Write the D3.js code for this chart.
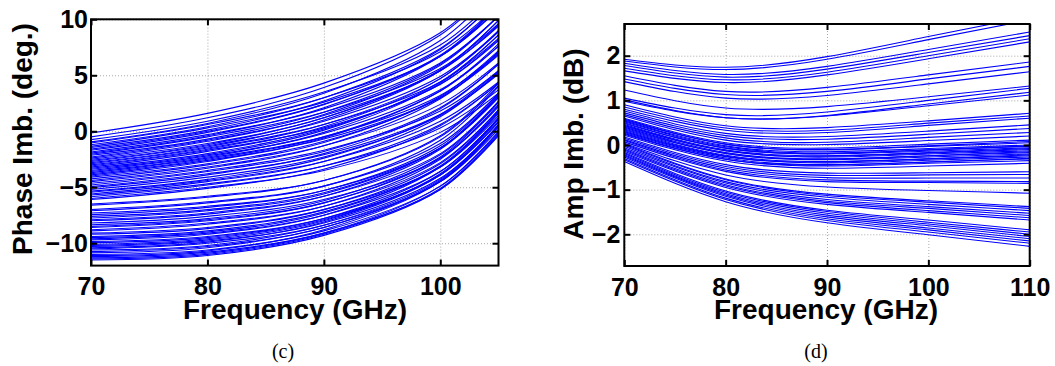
<!DOCTYPE html>
<html>
<head>
<meta charset="utf-8">
<script src="https://cdn.jsdelivr.net/npm/d3@7"></script>
<style>
  body { margin: 0; background: #fff; }
  svg { display: block; }
  .tick text { font-family: "Liberation Sans", Arial, sans-serif; font-weight: bold; font-size: 25px; fill: #000; }
  .grid line { stroke: #a8a8a8; stroke-width: 1; stroke-dasharray: 1,2; }
  .grid .domain, .ax .domain { display: none; }
  .ax line { stroke: #000; stroke-width: 2; }
  .lbl { font-family: "Liberation Sans", Arial, sans-serif; font-weight: bold; font-size: 28px; fill: #000; }
  .cap { font-family: "Liberation Serif", "Times New Roman", serif; font-size: 20px; fill: #000; }
</style>
</head>
<body>
<script>
// ---- (c) phase imbalance, one column per frequency, one entry per curve
const phaseFreq = [70, 80, 90, 100, 105];
const phase70 = [-0.15,-0.5,-0.75,-0.95,-1.05,-1.2,-1.35,-1.45,-1.6,-1.7,-1.85,-1.95,-2.05,-2.15,-2.3,-2.4,-2.5,-2.6,-2.7,-2.8,-2.9,-3.0,-3.1,-3.2,-3.3,-3.4,-3.5,-3.6,-3.7,-3.8,-3.9,-4.0,-4.1,-4.25,-4.4,-4.5,-4.65,-4.8,-4.95,-5.05,-5.2,-5.35,-5.45,-5.6,-5.7,-5.85,-6.0,-6.1,
  -6.5,-6.6,-7.0,-7.1,-7.3,-7.45,-7.6,-7.75,-7.9,-8.0,-8.2,-8.35,-8.5,-8.6,-8.8,-8.9,-9.1,-9.2,-9.4,-9.5,-9.6,-9.7,-9.85,-9.95,-10.1,-10.2,-10.3,-10.4,-10.5,-10.6,-10.75,-10.85,-11.0,-11.1,-11.2,-11.3,-11.4,-11.5];
const phase80 = [1.6,1.2,0.9,0.7,0.6,0.4,0.3,0.1,0.0,-0.1,-0.3,-0.4,-0.5,-0.7,-0.8,-0.9,-1.1,-1.2,-1.3,-1.4,-1.5,-1.6,-1.7,-1.8,-2.0,-2.1,-2.2,-2.3,-2.4,-2.5,-2.6,-2.7,-2.9,-3.0,-3.2,-3.3,-3.5,-3.6,-3.8,-3.9,-4.1,-4.3,-4.4,-4.5,-4.7,-4.8,-5.0,-5.1,
  -5.8,-5.9,-6.3,-6.4,-6.7,-6.8,-7.0,-7.1,-7.3,-7.4,-7.6,-7.8,-7.9,-8.0,-8.2,-8.3,-8.6,-8.7,-8.9,-9.0,-9.1,-9.2,-9.4,-9.5,-9.6,-9.7,-9.8,-9.9,-10.0,-10.2,-10.3,-10.4,-10.6,-10.7,-10.8,-10.9,-11.0,-11.1];
const phase90 = [4.3,3.9,3.5,3.4,3.0,3.0,2.6,2.7,2.4,2.4,2.0,2.1,1.7,1.7,1.4,1.5,1.2,1.2,0.9,1.0,0.6,0.6,0.3,0.4,0.2,0.1,-0.2,-0.1,-0.5,-0.5,-0.7,-0.6,-0.9,-1.0,-1.3,-1.3,-1.7,-1.8,-2.1,-2.0,-2.3,-2.4,-2.7,-2.7,-3.1,-3.1,-3.5,-3.4,
  -4.4,-4.4,-4.9,-4.9,-5.3,-5.3,-5.5,-5.6,-5.8,-5.8,-6.1,-6.2,-6.4,-6.4,-6.7,-6.7,-7.0,-7.0,-7.2,-7.3,-7.5,-7.5,-7.8,-7.8,-7.9,-8.0,-8.2,-8.1,-8.4,-8.4,-8.6,-8.6,-8.9,-8.8,-9.1,-9.1,-9.2,-9.3];
const phase100 = [8.8,8.6,7.7,8.1,7.1,7.4,6.7,7.3,6.7,6.8,6.1,6.7,5.6,6.0,5.4,5.9,5.4,5.5,4.9,5.4,4.4,4.7,4.2,4.7,4.2,4.4,3.7,4.3,3.2,3.6,3.0,3.6,3.0,3.1,2.4,2.9,1.8,2.1,1.5,2.0,1.4,1.5,0.9,1.3,0.3,0.6,-0.1,0.5,
  -0.5,-0.4,-1.1,-0.8,-1.5,-1.3,-1.5,-1.5,-2.0,-1.6,-2.4,-2.1,-2.4,-2.3,-2.8,-2.5,-3.2,-2.9,-3.2,-3.1,-3.6,-3.2,-3.9,-3.6,-3.9,-3.8,-4.2,-3.9,-4.5,-4.3,-4.5,-4.4,-4.9,-4.5,-5.2,-4.9,-5.1,-5.2];
const phase105 = [13.4,13.3,12.1,12.9,11.3,11.8,10.9,11.9,11.0,11.3,10.3,11.2,9.6,10.3,9.4,10.3,9.5,9.9,8.9,9.9,8.3,8.9,8.1,9.0,8.2,8.6,7.6,8.6,7.0,7.6,6.8,7.8,6.9,7.2,6.1,7.1,5.4,6.0,5.1,6.0,5.2,5.4,4.4,5.3,3.7,4.3,3.4,4.3,
  4.1,4.3,3.4,4.0,3.0,3.4,3.1,3.3,2.7,3.2,2.2,2.6,2.3,2.6,1.9,2.4,1.4,1.9,1.6,1.8,1.2,1.7,0.8,1.2,0.9,1.1,0.5,1.1,0.2,0.6,0.4,0.6,-0.1,0.5,-0.4,0.0,-0.2,-0.3];
const phaseXTicks = [70, 80, 90, 100];
const phaseYTicks = [-10, -5, 0, 5, 10];

// ---- (d) amplitude imbalance
const ampFreq = [70, 80, 90, 100, 110];
const amp70 = [1.92,1.88,1.83,1.78,1.72,1.66,1.55,1.48,1.42, 1.23,1.05,1.01,0.98, 0.90,0.85,0.80,0.76,0.72,0.68,0.65,
  0.60,0.58,0.56,0.54,0.52,0.50,0.48,0.46,0.44,0.42,0.40,0.38,0.36,0.34,0.32,0.30,0.28,0.26,0.24,0.22,
  0.18,0.15,0.12,0.10,0.07,0.04,0.02,0.00,-0.03,-0.06,-0.09,-0.11,-0.14,-0.17,-0.19,-0.22,-0.24,-0.27,-0.30,-0.33,-0.37];
const amp80 = [1.74,1.69,1.58,1.52,1.46,1.40,1.20,1.13,1.05, 0.83,0.68,0.61,0.61, 0.43,0.38,0.33,0.26,0.21,0.16,0.11,
  0.05,0.02,0.02,-0.02,-0.04,-0.07,-0.07,-0.11,-0.13,-0.13,-0.17,-0.19,-0.19,-0.23,-0.25,-0.26,-0.29,-0.32,-0.32,-0.36,
  -0.44,-0.48,-0.52,-0.56,-0.59,-0.67,-0.76,-0.78,-0.82,-0.85,-0.89,-0.92,-0.95,-1.03,-1.06,-1.09,-1.12,-1.15,-1.19,-1.22,-1.27];
const amp90 = [1.98,1.92,1.76,1.70,1.63,1.57,1.29,1.20,1.11, 0.86,0.74,0.65,0.66, 0.39,0.33,0.28,0.19,0.13,0.06,0.01,
  -0.07,-0.11,-0.10,-0.15,-0.18,-0.20,-0.19,-0.24,-0.27,-0.25,-0.31,-0.33,-0.32,-0.37,-0.40,-0.38,-0.44,-0.47,-0.45,-0.52,
  -0.63,-0.68,-0.73,-0.78,-0.82,-0.94,-1.10,-1.13,-1.17,-1.22,-1.26,-1.29,-1.33,-1.46,-1.49,-1.53,-1.57,-1.61,-1.65,-1.69,-1.74];
const amp100 = [2.43,2.36,2.14,2.07,2.00,1.93,1.57,1.48,1.37, 1.08,1.00,0.88,0.92, 0.54,0.49,0.44,0.31,0.24,0.17,0.10,
  0.02,-0.03,-0.02,-0.08,-0.11,-0.14,-0.11,-0.18,-0.20,-0.17,-0.24,-0.27,-0.24,-0.31,-0.34,-0.31,-0.38,-0.41,-0.38,-0.47,
  -0.62,-0.67,-0.74,-0.81,-0.84,-1.02,-1.25,-1.28,-1.33,-1.38,-1.42,-1.47,-1.51,-1.68,-1.73,-1.77,-1.81,-1.86,-1.90,-1.95,-2.01];
const amp110 = [2.88,2.80,2.53,2.45,2.38,2.31,1.86,1.76,1.64, 1.32,1.27,1.12,1.18, 0.71,0.65,0.60,0.45,0.37,0.28,0.20,
  0.11,0.05,0.08,0.00,-0.03,-0.06,-0.02,-0.10,-0.13,-0.08,-0.17,-0.20,-0.15,-0.24,-0.27,-0.22,-0.31,-0.35,-0.30,-0.41,
  -0.60,-0.66,-0.74,-0.82,-0.86,-1.08,-1.38,-1.42,-1.47,-1.53,-1.58,-1.63,-1.68,-1.90,-1.95,-2.00,-2.05,-2.10,-2.15,-2.20,-2.27];
const ampXTicks = [70, 80, 90, 100, 110];
const ampYTicks = [-2, -1, 0, 1, 2];

// turn the per-frequency columns into one point list per curve
function toCurves(freqs, cols) {
  const n = d3.min(cols, c => c.length);
  return d3.range(n).map(i => freqs.map((f, k) => [f, cols[k][i]]));
}

const svg = d3.select("body").append("svg")
  .attr("width", 1055)
  .attr("height", 366);

const intFmt = d3.format("d");

function panel(cfg) {
  const x = d3.scaleLinear().domain(cfg.xDomain).range([cfg.left, cfg.right]);
  const y = d3.scaleLinear().domain(cfg.yDomain).range([cfg.bottom, cfg.top]);
  const iw = cfg.right - cfg.left;
  const ih = cfg.bottom - cfg.top;
  const g = svg.append("g");

  // dotted grid
  g.append("g").attr("class", "grid")
    .attr("transform", `translate(0,${cfg.bottom})`)
    .call(d3.axisBottom(x).tickValues(cfg.xTicks).tickSize(-ih).tickFormat(""));
  g.append("g").attr("class", "grid")
    .attr("transform", `translate(${cfg.left},0)`)
    .call(d3.axisLeft(y).tickValues(cfg.yTicks).tickSize(-iw).tickFormat(""));

  // curves
  g.append("clipPath").attr("id", cfg.id + "-clip")
    .append("rect")
    .attr("x", cfg.left).attr("y", cfg.top)
    .attr("width", iw).attr("height", ih);

  const line = d3.line()
    .x(d => x(d[0]))
    .y(d => y(d[1]))
    .curve(cfg.curve);

  g.append("g")
    .attr("clip-path", `url(#${cfg.id}-clip)`)
    .selectAll("path")
    .data(cfg.curves)
    .join("path")
    .attr("d", line)
    .attr("fill", "none")
    .attr("stroke", "#0000ff")
    .attr("stroke-width", 1.1);

  // axes, ticks pointing inward on all four sides
  g.append("g").attr("class", "ax")
    .attr("transform", `translate(0,${cfg.bottom})`)
    .call(d3.axisBottom(x).tickValues(cfg.xTicks).tickFormat(intFmt)
      .tickSizeInner(-6).tickSizeOuter(0).tickPadding(12));
  g.append("g").attr("class", "ax")
    .attr("transform", `translate(0,${cfg.top})`)
    .call(d3.axisTop(x).tickValues(cfg.xTicks).tickSizeInner(-6).tickSizeOuter(0).tickFormat(""));
  g.append("g").attr("class", "ax")
    .attr("transform", `translate(${cfg.left},0)`)
    .call(d3.axisLeft(y).tickValues(cfg.yTicks).tickFormat(intFmt)
      .tickSizeInner(-6).tickSizeOuter(0).tickPadding(cfg.yPad));
  g.append("g").attr("class", "ax")
    .attr("transform", `translate(${cfg.right},0)`)
    .call(d3.axisRight(y).tickValues(cfg.yTicks).tickSizeInner(-6).tickSizeOuter(0).tickFormat(""));

  g.append("rect")
    .attr("x", cfg.left).attr("y", cfg.top)
    .attr("width", iw).attr("height", ih)
    .attr("fill", "none")
    .attr("stroke", "#000")
    .attr("stroke-width", 2);

  g.append("text").attr("class", "lbl")
    .attr("x", cfg.xLabelX).attr("y", 319)
    .attr("text-anchor", "middle")
    .text("Frequency (GHz)");

  g.append("text").attr("class", "lbl")
    .attr("transform", `translate(${cfg.yLabelX},${cfg.yLabelY}) rotate(-90)`)
    .attr("text-anchor", "middle")
    .text(cfg.yLabel);

  g.append("text").attr("class", "cap")
    .attr("x", cfg.capX).attr("y", 358)
    .attr("text-anchor", "middle")
    .text(cfg.cap);
}

panel({
  id: "phase",
  left: 91, right: 498.5, top: 19.3, bottom: 265.6,
  xDomain: [70, 105], yDomain: [-12, 10],
  xTicks: phaseXTicks, yTicks: phaseYTicks, yPad: 3,
  curves: toCurves(phaseFreq, [phase70, phase80, phase90, phase100, phase105]),
  curve: d3.curveCatmullRom.alpha(0.5),
  xLabelX: 295, yLabelX: 32, yLabelY: 139,
  yLabel: "Phase Imb. (deg.)",
  capX: 283, cap: "(c)"
});

panel({
  id: "amp",
  left: 624.3, right: 1029.7, top: 24, bottom: 266,
  xDomain: [70, 110], yDomain: [-2.71, 2.71],
  xTicks: ampXTicks, yTicks: ampYTicks, yPad: 4,
  curves: toCurves(ampFreq, [amp70, amp80, amp90, amp100, amp110]),
  curve: d3.curveNatural,
  xLabelX: 826, yLabelX: 583, yLabelY: 144,
  yLabel: "Amp Imb. (dB)",
  capX: 816, cap: "(d)"
});
</script>
</body>
</html>
